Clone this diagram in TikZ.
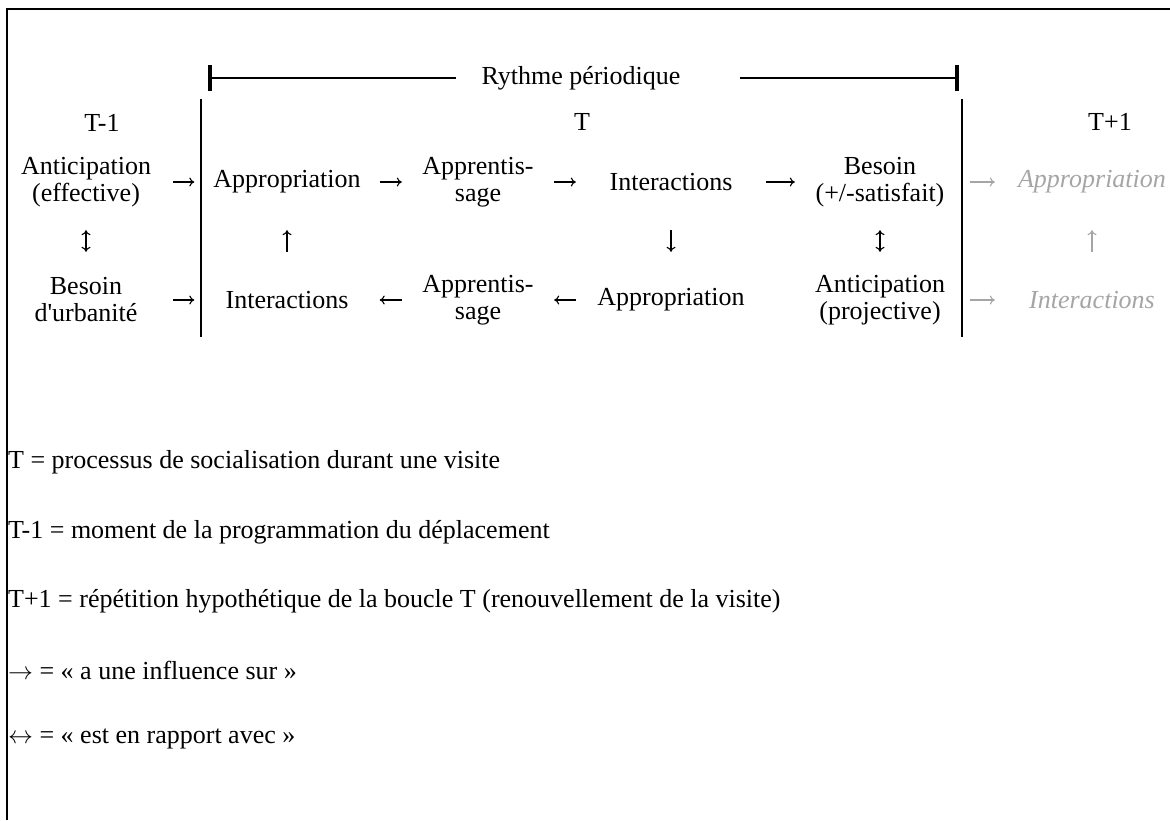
\documentclass[tikz,border=0pt]{standalone}
\usepackage{fontspec}
\setmainfont{Liberation Serif}[Ligatures=TeXOff]
\usetikzlibrary{arrows.meta}
\definecolor{pale}{RGB}{165,165,165}

\begin{document}
\begin{tikzpicture}[x=1pt,y=-1pt,
  font=\fontsize{26}{27}\selectfont,
  cell/.style={align=center,inner sep=0,minimum height=96pt},
  ghost/.style={cell,pale,font=\fontsize{26}{27}\selectfont\itshape},
  flow/.style={-{To[length=5pt,width=9pt]},line width=1.1pt},
  link/.style={{To[length=5pt,width=9pt]}-{To[length=5pt,width=9pt]},line width=1.1pt}]
\useasboundingbox (0,0) rectangle (1170,820);
\draw [line width=1.5pt] (7,820) -- (7,9) -- (1170,9);

\draw [line width=3.5pt] (210,65) -- (210,91);
\draw [line width=3.5pt] (957,65) -- (957,91);
\coordinate (rl) at (210,78);
\coordinate (rr) at (957,78);
\node (ry) at (581,78) {Rythme périodique};
\draw [line width=1.2pt] (rl) -- ([xshift=-22pt]ry.west);
\draw [line width=1.2pt] ([xshift=56pt]ry.east) -- (rr);

\draw [line width=1.2pt] (201,99) -- (201,337);
\draw [line width=1.2pt] (962,99) -- (962,337);

\node (tm) at (102,123) {T-1};
\node (t) at (582,122) {T};
\node (tp) at (1110,122) {T+1};

\node [cell,minimum width=174pt] (antE) at (86,182) {Anticipation\\(effective)};
\node [cell,minimum width=185pt] (appA) at (287,182) {Appropriation};
\node [cell,minimum width=152pt] (appB) at (478,182) {Apprentis-\\sage};
\node [cell,minimum width=190pt] (inter) at (671,182) {Interactions};
\node [cell,minimum width=170pt] (bes) at (880,182) {Besoin\\(+/-satisfait)};
\node [ghost,minimum width=188pt] (gApp) at (1092,182) {Appropriation};

\node [cell,minimum width=174pt] (besU) at (86,300) {Besoin\\d'urbanité};
\node [cell,minimum width=185pt] (intB) at (287,300) {Interactions};
\node [cell,minimum width=152pt] (appC) at (478,300) {Apprentis-\\sage};
\node [cell,minimum width=190pt] (appO) at (671,300) {Appropriation};
\node [cell,minimum width=170pt] (antP) at (880,300) {Anticipation\\(projective)};
\node [ghost,minimum width=188pt] (gInt) at (1092,300) {Interactions};

\draw [flow] (antE) -- (appA);
\draw [flow] (appA) -- (appB);
\draw [flow] (appB) -- (inter);
\draw [flow] (inter) -- (bes);
\draw [flow,pale,shorten <=5pt,shorten >=3pt] (bes) -- (gApp);

\draw [flow] (besU) -- (intB);
\draw [flow] (appC) -- (intB);
\draw [flow] (appO) -- (appC);
\draw [flow,pale,shorten <=5pt,shorten >=3pt] (antP) -- (gInt);

\draw [link] (antE) -- (besU);
\draw [flow] (intB) -- (appA);
\draw [flow] (inter) -- (appO);
\draw [link] (bes) -- (antP);
\draw [flow,pale] (gInt) -- (gApp);

\node [anchor=west,inner sep=0] (l1) at (8,462) {T = processus de socialisation durant une visite};
\node [anchor=west,inner sep=0] (l2) at (8,532) {T-1 = moment de la programmation du déplacement};
\node [anchor=west,inner sep=0] (l3) at (8,601) {T+1 = répétition hypothétique de la boucle T (renouvellement de la visite)};
\node [anchor=west,inner sep=0] (l4) at (8,670) {$\rightarrow$ = « a une influence sur »};
\node [anchor=west,inner sep=0] (l5) at (8,739) {$\leftrightarrow$ = « est en rapport avec »};
\end{tikzpicture}
\end{document}
